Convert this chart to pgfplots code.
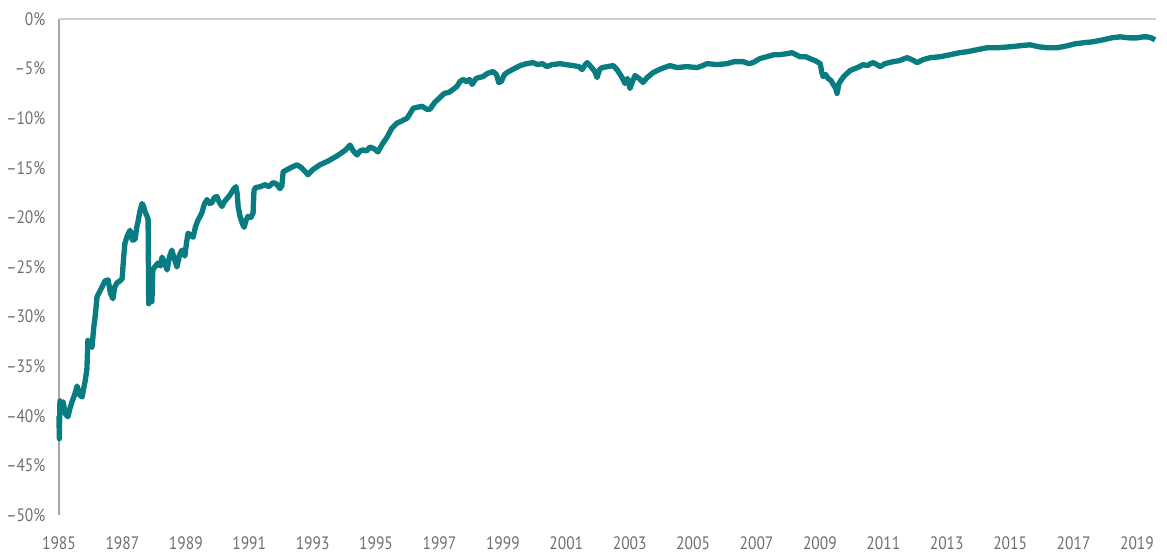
\documentclass[border=0pt]{standalone}
\usepackage{pgfplots}
\pgfplotsset{compat=1.18}
\usepackage{fontspec}
\setmainfont{PT Sans}[FakeStretch=0.86]
\definecolor{teal1}{RGB}{8,124,128}
\definecolor{labgray}{RGB}{110,110,110}
\begin{document}
\begin{tikzpicture}
\begin{axis}[
  name=ax,
  scale only axis,
  width=822.75pt, height=372pt,
  xmin=1985, xmax=2019.6,
  ymin=-50, ymax=0,
  separate axis lines,
  axis x line*=bottom,
  axis y line*=left,
  x axis line style={draw=none},
  y axis line style={draw=black!35, line width=1pt},
  major tick length=0pt,
  xtick={1985,1987,...,2019},
  xticklabels={1985,1987,1989,1991,1993,1995,1997,1999,2001,2003,2005,2007,2009,2011,2013,2015,2017,2019},
  ytick={-50,-45,...,0},
  yticklabels={–50\%,–45\%,–40\%,–35\%,–30\%,–25\%,–20\%,–15\%,–10\%,–5\%,0\%},
  tick label style={font=\fontsize{13.5}{15}\selectfont, text=labgray},
  yticklabel style={inner xsep=0pt, xshift=-10pt},
  xticklabel style={yshift=-13pt},
  extra y ticks={0},
  extra y tick labels={},
  extra y tick style={grid=major, major grid style={draw=black!18, line width=1.2pt}},
  clip=false,
]
\addplot[teal1, line width=4pt, line join=round] coordinates {
(1985.00,-40.0) (1985.01,-42.3) (1985.03,-38.5) (1985.08,-38.9) (1985.13,-38.6)
(1985.20,-39.8) (1985.28,-40.1) (1985.35,-39.2) (1985.41,-38.6) (1985.50,-37.8)
(1985.57,-37.0) (1985.65,-37.9) (1985.73,-38.1) (1985.78,-37.2) (1985.82,-36.6)
(1985.88,-35.3) (1985.91,-32.4) (1985.97,-32.9) (1986.04,-33.1) (1986.10,-31.0)
(1986.14,-30.0) (1986.20,-28.0) (1986.28,-27.5) (1986.36,-27.0) (1986.45,-26.4)
(1986.55,-26.3) (1986.62,-27.6) (1986.70,-28.2) (1986.76,-27.0) (1986.83,-26.6)
(1986.92,-26.4) (1986.99,-26.2) (1987.04,-24.0) (1987.08,-22.6) (1987.16,-21.8)
(1987.24,-21.3) (1987.32,-22.3) (1987.40,-22.2) (1987.45,-21.0) (1987.49,-20.5)
(1987.55,-19.4) (1987.62,-18.6) (1987.67,-18.9) (1987.71,-19.4) (1987.78,-19.9)
(1987.81,-20.2) (1987.83,-28.7) (1987.88,-28.4) (1987.93,-28.5) (1987.96,-25.3)
(1988.02,-25.0) (1988.12,-24.6) (1988.20,-24.9) (1988.25,-24.0) (1988.33,-24.6)
(1988.41,-25.3) (1988.48,-24.0) (1988.56,-23.3) (1988.64,-24.2) (1988.72,-25.0)
(1988.80,-23.8) (1988.88,-23.3) (1988.97,-23.9) (1989.02,-22.6) (1989.07,-21.6)
(1989.15,-21.8) (1989.23,-22.0) (1989.30,-21.0) (1989.38,-20.3) (1989.45,-19.9)
(1989.51,-19.5) (1989.58,-18.7) (1989.67,-18.2) (1989.75,-18.6) (1989.83,-18.5)
(1989.90,-18.0) (1989.98,-17.9) (1990.06,-18.5) (1990.14,-18.9) (1990.22,-18.4)
(1990.30,-18.1) (1990.38,-17.8) (1990.46,-17.4) (1990.52,-17.1) (1990.58,-16.9)
(1990.62,-17.6) (1990.65,-18.9) (1990.71,-19.9) (1990.78,-20.6) (1990.84,-21.0)
(1990.90,-20.3) (1990.96,-19.9) (1991.05,-20.0) (1991.12,-19.6) (1991.15,-17.3)
(1991.20,-17.0) (1991.35,-16.9) (1991.50,-16.7) (1991.62,-16.9) (1991.75,-16.5)
(1991.85,-16.6) (1991.97,-17.1) (1992.03,-16.8) (1992.07,-15.4) (1992.13,-15.3)
(1992.30,-15.0) (1992.51,-14.7) (1992.65,-15.0) (1992.80,-15.5) (1992.85,-15.7)
(1993.00,-15.2) (1993.23,-14.7) (1993.50,-14.3) (1993.77,-13.8) (1994.00,-13.3)
(1994.10,-13.0) (1994.18,-12.7) (1994.28,-13.3) (1994.40,-13.7) (1994.50,-13.3)
(1994.59,-13.2) (1994.70,-13.3) (1994.81,-12.9) (1994.95,-13.1) (1995.06,-13.4)
(1995.20,-12.6) (1995.35,-11.9) (1995.50,-11.0) (1995.66,-10.5) (1995.80,-10.3)
(1995.98,-10.0) (1996.08,-9.5) (1996.17,-9.0) (1996.30,-8.9) (1996.45,-8.8)
(1996.60,-9.1) (1996.70,-9.1) (1996.85,-8.4) (1997.02,-7.9) (1997.15,-7.5)
(1997.30,-7.4) (1997.43,-7.1) (1997.55,-6.8) (1997.65,-6.3) (1997.74,-6.1)
(1997.85,-6.3) (1997.95,-6.1) (1998.03,-6.6) (1998.15,-6.0) (1998.25,-5.9)
(1998.38,-5.8) (1998.50,-5.5) (1998.69,-5.3) (1998.80,-5.6) (1998.87,-6.4)
(1998.95,-6.3) (1999.05,-5.6) (1999.13,-5.4) (1999.30,-5.1) (1999.54,-4.7)
(1999.75,-4.5) (1999.95,-4.4) (2000.10,-4.6) (2000.25,-4.5) (2000.39,-4.8)
(2000.55,-4.6) (2000.80,-4.5) (2001.00,-4.6) (2001.21,-4.7) (2001.40,-4.8)
(2001.50,-5.1) (2001.60,-4.6) (2001.66,-4.4) (2001.80,-4.9) (2001.90,-5.3)
(2001.97,-5.9) (2002.05,-5.1) (2002.13,-4.9) (2002.30,-4.8) (2002.48,-4.7)
(2002.60,-5.1) (2002.70,-5.6) (2002.76,-5.9) (2002.85,-6.5) (2002.93,-6.0)
(2003.01,-7.0) (2003.10,-6.2) (2003.17,-5.7) (2003.30,-6.0) (2003.42,-6.4)
(2003.55,-5.9) (2003.74,-5.4) (2004.00,-5.0) (2004.27,-4.7) (2004.50,-4.9)
(2004.80,-4.8) (2005.13,-4.9) (2005.30,-4.7) (2005.44,-4.5) (2005.75,-4.6)
(2006.07,-4.5) (2006.30,-4.3) (2006.58,-4.3) (2006.75,-4.5) (2006.89,-4.4)
(2007.10,-4.0) (2007.33,-3.8) (2007.55,-3.6) (2007.74,-3.6) (2007.95,-3.5)
(2008.12,-3.4) (2008.25,-3.6) (2008.37,-3.8) (2008.55,-3.8) (2008.69,-4.0)
(2008.85,-4.2) (2009.01,-4.5) (2009.06,-5.4) (2009.10,-5.8) (2009.18,-5.6)
(2009.26,-6.0) (2009.35,-6.2) (2009.42,-6.6) (2009.50,-7.0) (2009.54,-7.5)
(2009.60,-6.5) (2009.64,-6.3) (2009.75,-5.8) (2009.85,-5.5) (2009.95,-5.2)
(2010.10,-5.0) (2010.25,-4.8) (2010.36,-4.6) (2010.50,-4.7) (2010.60,-4.5)
(2010.68,-4.4) (2010.80,-4.6) (2010.90,-4.8) (2011.05,-4.5) (2011.31,-4.3)
(2011.50,-4.2) (2011.75,-3.9) (2011.90,-4.1) (2012.07,-4.4) (2012.25,-4.1)
(2012.48,-3.9) (2012.80,-3.8) (2013.11,-3.6) (2013.40,-3.4) (2013.64,-3.3)
(2013.95,-3.1) (2014.27,-2.9) (2014.60,-2.9) (2015.00,-2.8) (2015.30,-2.7)
(2015.63,-2.6) (2015.90,-2.8) (2016.17,-2.9) (2016.48,-2.9) (2016.80,-2.7)
(2017.05,-2.5) (2017.30,-2.4) (2017.60,-2.3) (2017.93,-2.1) (2018.20,-1.9)
(2018.47,-1.8) (2018.75,-1.9) (2019.01,-1.9) (2019.20,-1.8) (2019.32,-1.8)
(2019.45,-1.9) (2019.57,-2.1)
};
\end{axis}
\path ([xshift=-44.25pt,yshift=-30pt]ax.south west) rectangle ([xshift=8.25pt,yshift=14.25pt]ax.north east);
\end{tikzpicture}
\end{document}
